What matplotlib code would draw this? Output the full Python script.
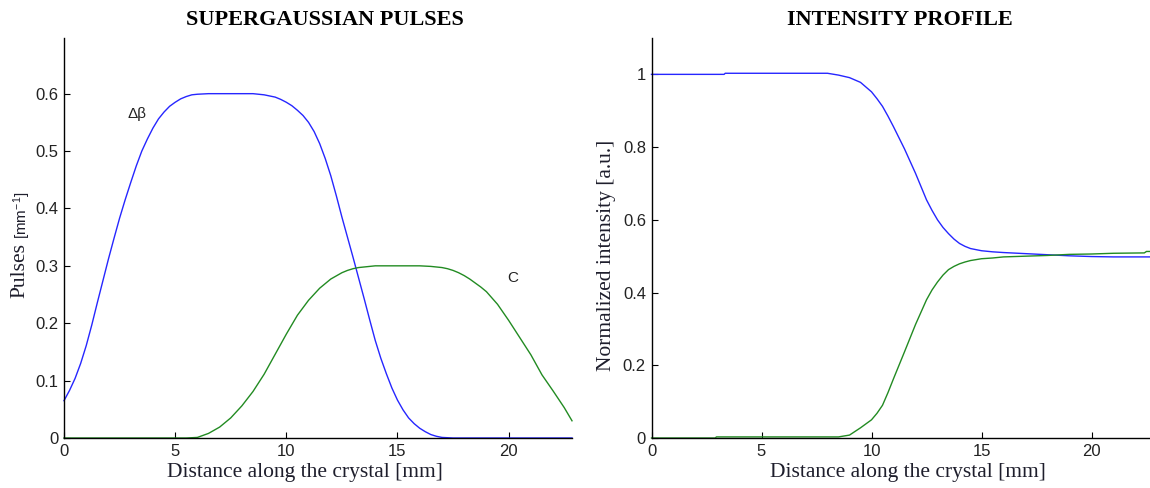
import matplotlib
matplotlib.use("Agg")
import matplotlib.pyplot as plt

# ---- Supergaussian pulses (left panel) ----
dbeta_x = [0, 0.25, 0.5, 0.75, 1.0, 1.25, 1.5, 1.75, 2.0, 2.25, 2.5, 2.75, 3.0, 3.25,
           3.5, 3.75, 4.0, 4.25, 4.5, 4.75, 5.0, 5.25, 5.5, 5.75, 6.0, 6.5, 7.0, 8.0,
           8.5, 9.0, 9.5, 9.75, 10.0, 10.25, 10.5, 10.75, 11.0, 11.25, 11.5, 11.75,
           12.0, 12.25, 12.5, 12.75, 13.0, 13.25, 13.5, 13.75, 14.0, 14.25, 14.5,
           14.75, 15.0, 15.25, 15.5, 15.75, 16.0, 16.25, 16.5, 16.75, 17.0, 17.5, 22.85]
dbeta_y = [0.065, 0.083, 0.104, 0.130, 0.161, 0.197, 0.236, 0.274, 0.312, 0.348, 0.383,
           0.415, 0.445, 0.474, 0.500, 0.521, 0.540, 0.556, 0.568, 0.578, 0.585, 0.591,
           0.595, 0.598, 0.599, 0.600, 0.600, 0.600, 0.600, 0.598, 0.594, 0.590, 0.585,
           0.579, 0.571, 0.562, 0.550, 0.534, 0.513, 0.487, 0.457, 0.422, 0.385, 0.350,
           0.315, 0.279, 0.243, 0.206, 0.170, 0.139, 0.112, 0.087, 0.066, 0.049, 0.035,
           0.025, 0.017, 0.011, 0.006, 0.003, 0.001, 0.0, 0.0]

c_x = [0, 5.5, 6.0, 6.5, 7.0, 7.5, 8.0, 8.5, 9.0, 9.5, 10.0, 10.5, 11.0, 11.5, 12.0,
       12.5, 12.75, 13.0, 13.25, 13.5, 14.0, 15.0, 16.0, 16.5, 17.0, 17.25, 17.5, 17.75,
       18.0, 18.25, 18.5, 18.75, 19.0, 19.5, 20.0, 20.5, 21.0, 21.5, 22.0, 22.5, 22.85]
c_y = [0.0, 0.0, 0.001, 0.008, 0.019, 0.035, 0.056, 0.081, 0.111, 0.146, 0.181, 0.214,
       0.240, 0.261, 0.277, 0.288, 0.292, 0.295, 0.297, 0.298, 0.300, 0.300, 0.300,
       0.299, 0.297, 0.295, 0.292, 0.288, 0.283, 0.277, 0.270, 0.263, 0.255, 0.233,
       0.205, 0.175, 0.145, 0.110, 0.082, 0.053, 0.030]

# ---- Intensity profile (right panel) ----
i1_x = [0, 3.3, 3.35, 8.0, 8.5, 9.0, 9.5, 10.0, 10.25, 10.5, 10.75, 11.0, 11.5, 12.0,
        12.5, 12.75, 13.0, 13.25, 13.5, 13.75, 14.0, 14.25, 14.5, 15.0, 15.5, 16.0,
        17.0, 18.0, 19.0, 20.0, 21.0, 23.0]
i1_y = [1.0, 1.0, 1.003, 1.003, 0.998, 0.991, 0.978, 0.952, 0.933, 0.912, 0.885, 0.856,
        0.795, 0.728, 0.655, 0.626, 0.600, 0.579, 0.562, 0.547, 0.535, 0.527, 0.521,
        0.515, 0.512, 0.510, 0.507, 0.504, 0.501, 0.499, 0.498, 0.498]

i2_x = [0, 2.9, 2.95, 8.5, 9.0, 9.5, 10.0, 10.25, 10.5, 10.75, 11.0, 11.5, 12.0, 12.5,
        12.75, 13.0, 13.25, 13.5, 13.75, 14.0, 14.25, 14.5, 15.0, 15.5, 16.0, 17.0,
        18.0, 19.0, 20.0, 21.0, 22.4, 22.5, 23.0]
i2_y = [0.0, 0.0, 0.003, 0.003, 0.008, 0.028, 0.050, 0.068, 0.090, 0.125, 0.163, 0.237,
        0.312, 0.380, 0.407, 0.429, 0.448, 0.463, 0.472, 0.479, 0.484, 0.488, 0.493,
        0.495, 0.498, 0.500, 0.502, 0.505, 0.506, 0.508, 0.509, 0.513, 0.513]

left_yticks = [0, 0.1, 0.2, 0.3, 0.4, 0.5, 0.6]
left_yticklabels = ["0", "0.1", "0.2", "0.3", "0.4", "0.5", "0.6"]
right_yticks = [0, 0.2, 0.4, 0.6, 0.8, 1.0]
right_yticklabels = ["0", "0.2", "0.4", "0.6", "0.8", "1"]
xticks = [0, 5, 10, 15, 20]
xticklabels = ["0", "5", "10", "15", "20"]

BLUE = "#2626ff"
GREEN = "#228b22"
SERIF = "Liberation Serif"
SANS = "Liberation Sans"
LABEL_COLOR = "#1e1e2c"

plt.rcParams["mathtext.fontset"] = "custom"
plt.rcParams["mathtext.rm"] = SANS
plt.rcParams["mathtext.it"] = SANS
plt.rcParams["mathtext.default"] = "rm"

W, H = 1150, 488
fig = plt.figure(figsize=(W / 100, H / 100), dpi=100)


def px_axes(left, right, top, bottom):
    return fig.add_axes([left / W, 1 - bottom / H, (right - left) / W, (bottom - top) / H])


def style(ax):
    for side in ("top", "right"):
        ax.spines[side].set_visible(False)
    for side in ("left", "bottom"):
        ax.spines[side].set_linewidth(1.0)
        ax.spines[side].set_color("black")
    ax.tick_params(direction="in", length=4, width=0.8, colors="black",
                   labelcolor="#222222", labelsize=12, pad=4)
    for lab in ax.get_xticklabels() + ax.get_yticklabels():
        lab.set_fontfamily(SANS)


# Left panel
ax1 = px_axes(64, 572, 38, 438)
ax1.plot(dbeta_x, dbeta_y, color=BLUE, lw=1.0, clip_on=False)
ax1.plot(c_x, c_y, color=GREEN, lw=1.0, clip_on=False)
ax1.set_xlim(0, 22.85)
ax1.set_ylim(0, 0.697)
ax1.set_xticks(xticks, xticklabels)
ax1.set_yticks(left_yticks, left_yticklabels)
style(ax1)
ax1.text(3.3, 0.565, "Δβ", fontsize=11, family=SANS, ha="center", va="center", color="#222222")
ax1.text(20.2, 0.279, "C", fontsize=11, family=SANS, ha="center", va="center", color="#222222")
ax1.set_xlabel("Distance along the crystal [mm]", family=SERIF, fontsize=15.5,
               color=LABEL_COLOR, va="center")
ax1.xaxis.set_label_coords((305 - 64) / 508, -(472 - 438) / 400)

fig.text(325 / W, 1 - 20 / H, "SUPERGAUSSIAN PULSES", family=SERIF, fontweight="bold",
         fontsize=16, ha="center", va="center", color="black")
fig.text(20 / W, 1 - 271 / H, "Pulses", family=SERIF, fontsize=15.5, rotation=90,
         ha="center", va="center", color=LABEL_COLOR)
fig.text(22 / W, 1 - 215 / H, "[mm$^{-1}$]", family=SANS, fontsize=11, rotation=90,
         ha="center", va="center", color=LABEL_COLOR)

# Right panel
ax2 = px_axes(651.5, 651.5 + 23 * 22.0, 38, 438)
ax2.plot(i1_x, i1_y, color=BLUE, lw=1.0, clip_on=False)
ax2.plot(i2_x, i2_y, color=GREEN, lw=1.0, clip_on=False)
ax2.set_xlim(0, 23)
ax2.set_ylim(0, 1.1)
ax2.set_xticks(xticks, xticklabels)
ax2.set_yticks(right_yticks, right_yticklabels)
style(ax2)
ax2.set_xlabel("Distance along the crystal [mm]", family=SERIF, fontsize=15.5,
               color=LABEL_COLOR, va="center")
ax2.xaxis.set_label_coords((908 - 651.5) / (23 * 22.0), -(472 - 438) / 400)

fig.text(900 / W, 1 - 20 / H, "INTENSITY PROFILE", family=SERIF, fontweight="bold",
         fontsize=16, ha="center", va="center", color="black")
fig.text(607 / W, 1 - 255 / H, "Normalized intensity [a.u.]", family=SERIF, fontsize=15.5,
         rotation=90, ha="center", va="center", color=LABEL_COLOR)

fig.savefig("out.png", dpi=100)
